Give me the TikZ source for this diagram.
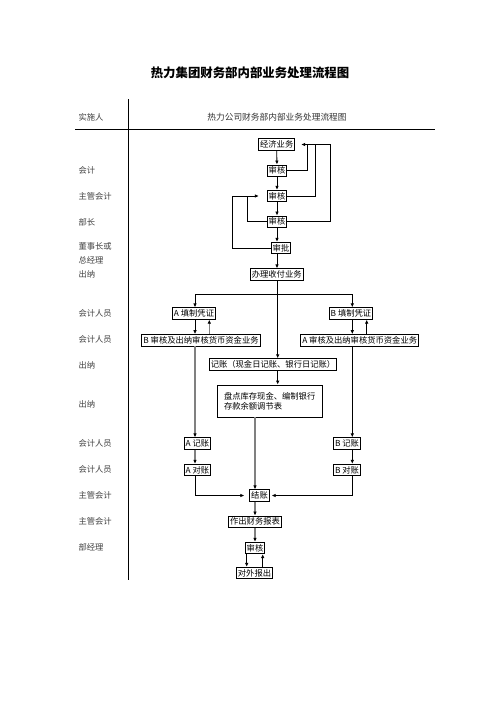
\documentclass[tikz,border=0pt]{standalone}
\usepackage{fontspec}
\setmainfont{Noto Sans CJK SC}
\usetikzlibrary{arrows.meta}

\begin{document}
\begin{tikzpicture}[x=1pt,y=-1pt,
    box/.style={draw,line width=0.8pt,font=\fontsize{8.3}{10}\selectfont,
        inner xsep=1.5pt,inner ysep=1pt,minimum height=11.5pt},
    lbl/.style={anchor=west,font=\fontsize{8.3}{10}\selectfont,text=black!75},
    arr/.style={line width=0.8pt,-{Latex[length=4pt,width=3.6pt,color=black]}},
    garr/.style={arr,draw=black!50,line width=1.4pt},
    ln/.style={line width=0.8pt}]
    \useasboundingbox (0,0) rectangle (496,702);

    % 标题和表头
    \node[font=\bfseries\fontsize{12.4}{14}\selectfont] (title) at (250,73) {热力集团财务部内部业务处理流程图};
    \node[lbl] (shishi) at (75,117) {实施人};
    \node[font=\fontsize{8.7}{10}\selectfont,text=black!80] (head) at (277,117) {热力公司财务部内部业务处理流程图};
    \draw[ln] (75,129) -- (435,129);
    \draw[ln] (128,99) -- (128,580);

    % 左侧实施人
    \node[lbl] (r1) at (75,170) {会计};
    \node[lbl] (r2) at (75,196) {主管会计};
    \node[lbl] (r3) at (75,222) {部长};
    \node[lbl] (r4) at (75,246) {董事长或};
    \node[lbl] (r5) at (75,260) {总经理};
    \node[lbl] (r6) at (75,274) {出纳};
    \node[lbl] (r7) at (75,313) {会计人员};
    \node[lbl] (r8) at (75,339) {会计人员};
    \node[lbl] (r9) at (75,365) {出纳};
    \node[lbl] (r10) at (75,404) {出纳};
    \node[lbl] (r11) at (75,443) {会计人员};
    \node[lbl] (r12) at (75,469) {会计人员};
    \node[lbl] (r13) at (75,495) {主管会计};
    \node[lbl] (r14) at (75,521) {主管会计};
    \node[lbl] (r15) at (75,547) {部经理};

    % 审批部分
    \node[box] (jingji) at (276.7,144.5) {经济业务};
    \node[box] (shenhe1) at (277,170.7) {审核};
    \node[box] (shenhe2) at (277,196) {审核};
    \node[box] (shenhe3) at (277,221.7) {审核};
    \node[box] (shenpi) at (281,248) {审批};
    \node[box] (banli) at (276.7,274.5) {办理收付业务};

    % 凭证和记账
    \node[box] (atz) at (194,313.5) {A 填制凭证};
    \node[box] (btz) at (351,313.5) {B 填制凭证};
    \node[box] (bsh) at (201,340.3) {B 审核及出纳审核货币资金业务};
    \node[box] (ash) at (359.7,340.3) {A 审核及出纳审核货币资金业务};
    \node[box] (jizhang) at (273,364.5) {记账（现金日记账、银行日记账）};
    \node[box,minimum width=105.4pt,minimum height=32pt,text width=92pt,
        align=left,inner xsep=6.5pt] (pandian) at (270,401)
        {盘点库存现金、编制银行\\存款余额调节表};
    \node[box] (ajz) at (197.5,443.5) {A 记账};
    \node[box] (bjz) at (347,443.5) {B 记账};
    \node[box] (adz) at (197.5,470) {A 对账};
    \node[box] (bdz) at (347,470) {B 对账};
    \node[box] (jiezhang) at (259.5,495.5) {结账};
    \node[box] (baobiao) at (255,521.7) {作出财务报表};
    \node[box] (shenhe4) at (255,548) {审核};
    \node[box] (duiwai) at (254.5,573) {对外报出};

    % 连线用的坐标
    \coordinate (ka) at (307,0);
    \coordinate (kb) at (315,0);
    \coordinate (kc) at (330,0);
    \coordinate (kd) at (232.7,0);
    \coordinate (ke) at (247.7,0);
    \coordinate (xa) at (195,0);
    \coordinate (xa2) at (209.3,0);
    \coordinate (xb) at (352.3,0);
    \coordinate (xb2) at (366.7,0);
    \coordinate (xm) at (255,0);
    \coordinate (xl) at (246.7,0);
    \coordinate (xr) at (262.7,0);
    \coordinate (fen) at (277.7,294.3);

    % 审批流程
    \draw[arr] (jingji) -- (shenhe1);
    \draw[arr] (shenhe1) -- (shenhe2);
    \draw[arr] (shenhe2) -- (shenhe3);
    \draw[arr] (shenhe3.south) -- (shenhe3.south |- shenpi.north);
    \draw[arr] (shenhe3.south |- shenpi.south) -- (shenhe3.south |- banli.north);
    \draw[ln] (shenhe1.east) -| (ka |- jingji);
    \draw[ln] (shenhe2.east) -| (kb |- jingji);
    \draw[arr,shorten >=6pt] (shenhe3.east) -| (kc |- jingji) -- (jingji.east);
    \draw[arr,shorten >=8pt] (shenpi.west) -| (kd |- shenhe2) -- (shenhe2.west);
    \draw[ln] (shenhe3.west) -| (ke |- shenhe2);

    % 分支
    \draw[arr] (fen |- banli.south) -- (fen |- jizhang.north);
    \draw[arr] (fen) -| (xa |- atz.north);
    \draw[arr] (fen) -| (xb |- btz.north);
    \draw[arr] (xa |- atz.south) -- (xa |- bsh.north);
    \draw[garr] (xa2 |- bsh.north) -- (xa2 |- atz.south);
    \draw[arr] (xb |- btz.south) -- (xb |- ash.north);
    \draw[arr] (xb2 |- ash.north) -- (xb2 |- btz.south);
    \draw[arr] (fen |- jizhang.south) -- (fen |- pandian.north);
    \draw[garr] (xa |- bsh.south) -- (xa |- ajz.north);
    \draw[arr] (xb |- ash.south) -- (xb |- bjz.north);
    \draw[garr] (xa |- ajz.south) -- (xa |- adz.north);
    \draw[arr] (xb |- bjz.south) -- (xb |- bdz.north);
    \draw[arr,shorten >=5pt] (xa |- adz.south) |- (jiezhang.west);
    \draw[arr,shorten >=2pt] (xb |- bdz.south) |- (jiezhang.east);

    % 结账以后
    \draw[garr] (xm |- pandian.south) -- (xm |- jiezhang.north);
    \draw[garr] (xm |- jiezhang.south) -- (xm |- baobiao.north);
    \draw[garr] (xm |- baobiao.south) -- (xm |- shenhe4.north);
    \draw[arr] (xl |- shenhe4.south) -- (xl |- duiwai.north);
    \draw[arr] (xr |- duiwai.north) -- (xr |- shenhe4.south);
\end{tikzpicture}
\end{document}
